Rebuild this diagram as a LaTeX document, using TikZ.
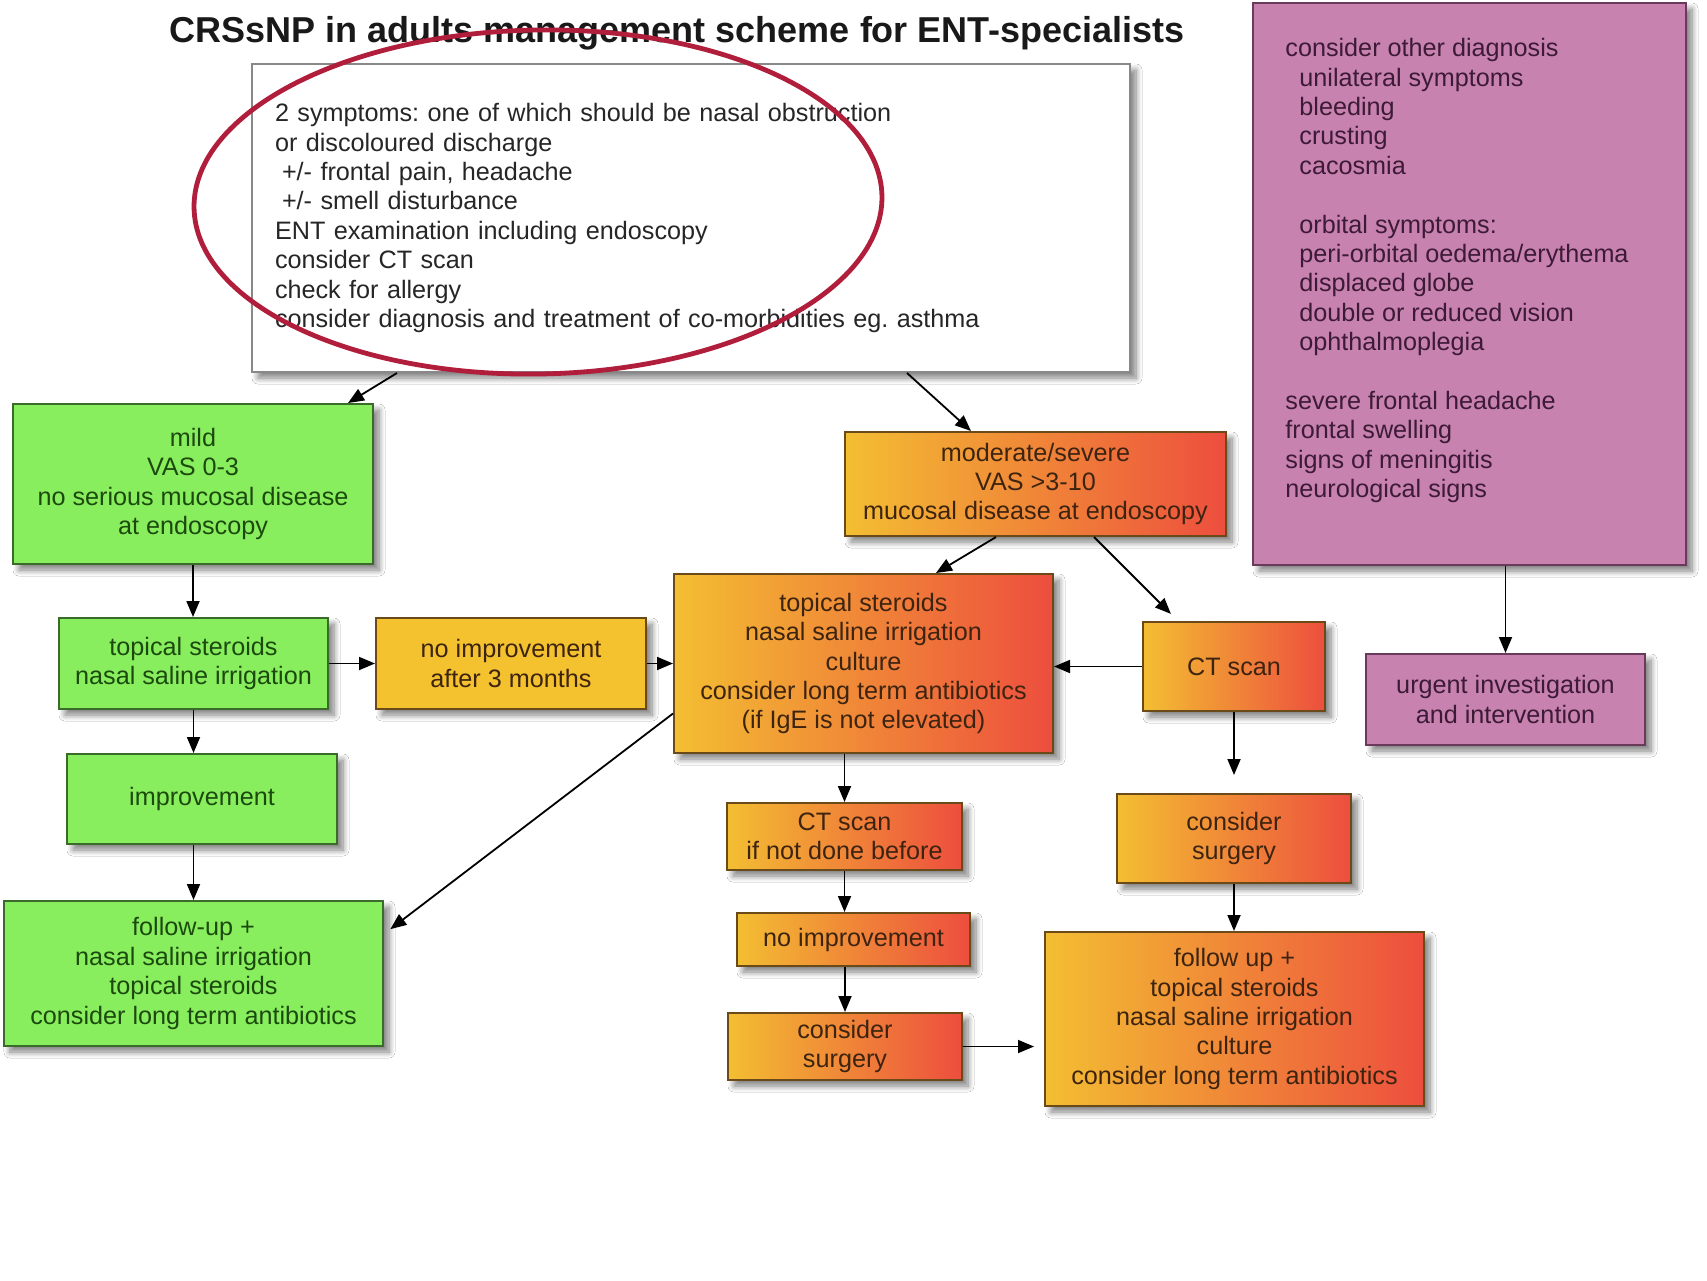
\documentclass[tikz,border=0pt]{standalone}
\usepackage{fontspec}
\setmainfont{Liberation Sans}
\usetikzlibrary{arrows.meta,shadows.blur,calc}
\definecolor{grn}{HTML}{88EE5E}
\definecolor{grnd}{HTML}{3A6B2A}
\definecolor{grnt}{HTML}{1C4A0E}
\definecolor{orL}{HTML}{F3BE32}
\definecolor{orR}{HTML}{ED4E3E}
\definecolor{ord}{HTML}{6B4A1A}
\definecolor{ort}{HTML}{3D2410}
\definecolor{yel}{HTML}{F4C12F}
\definecolor{pur}{HTML}{C882B0}
\definecolor{purd}{HTML}{6A3A5A}
\definecolor{purt}{HTML}{3D1A35}
\definecolor{topd}{HTML}{888888}
\definecolor{ellcol}{HTML}{B01E3C}
\frenchspacing
\begin{document}
\begin{tikzpicture}[x=0.5pt,y=-0.5pt,
  txt/.style={font=\fontsize{12.6}{14.7}\selectfont},
  base/.style={txt, draw, line width=1pt, inner sep=0pt, align=center, anchor=north west,
    blur shadow={shadow xshift=3pt, shadow yshift=-3pt, shadow blur radius=3pt, shadow blur steps=8, shadow opacity=50}},
  gbox/.style={base, fill=grn, draw=grnd, text=grnt},
  obox/.style={base, left color=orL, right color=orR, draw=ord, text=ort},
  ybox/.style={base, fill=yel, draw=ord, text=ort},
  pbox/.style={base, fill=pur, draw=purd, text=purt},
  arr/.style={-{Triangle[length=8pt,width=6.5pt]}, line width=0.9pt, black},
]
\fill[white] (0,0) rectangle (1707,1280);
\useasboundingbox (0,0) rectangle (1707,1280);

\node[font=\fontsize{18}{21}\selectfont\bfseries, text=black!90] (title) at (677,33)
  {CRSsNP in adults management scheme for ENT-specialists};

\node[base, draw=topd, fill=white, text=black!85, align=left, text width=416pt,
  inner xsep=11.5pt, minimum height=154pt] (top) at (251,63)
  {2 symptoms: one of which should be nasal obstruction\\
   or discoloured discharge\\
   \hspace*{3.5pt}+/- frontal pain, headache\\
   \hspace*{3.5pt}+/- smell disturbance\\
   ENT examination including endoscopy\\
   consider CT scan\\
   check for allergy\\
   consider diagnosis and treatment of co-morbidities eg. asthma};

\node[pbox, minimum width=216.5pt, minimum height=281pt] (purple) at (1252,2) {};
\node[txt, anchor=north west, inner sep=0pt, align=left, text=purt] (ptext) at (1285,38)
  {consider other diagnosis\\
   \hspace*{7pt}unilateral symptoms\\
   \hspace*{7pt}bleeding\\
   \hspace*{7pt}crusting\\
   \hspace*{7pt}cacosmia\\[14.7pt]
   \hspace*{7pt}orbital symptoms:\\
   \hspace*{7pt}peri-orbital oedema/erythema\\
   \hspace*{7pt}displaced globe\\
   \hspace*{7pt}double or reduced vision\\
   \hspace*{7pt}ophthalmoplegia\\[14.7pt]
   severe frontal headache\\
   frontal swelling\\
   signs of meningitis\\
   neurological signs};

\node[gbox, minimum width=180pt, minimum height=80pt] (mild) at (12,403)
  {mild\\VAS 0-3\\no serious mucosal disease\\at endoscopy};
\node[obox, minimum width=190.5pt, minimum height=52pt] (mod) at (844,431)
  {moderate/severe\\VAS >3-10\\mucosal disease at endoscopy};
\node[gbox, minimum width=134.5pt, minimum height=45.5pt] (topical) at (58,617)
  {topical steroids\\nasal saline irrigation};
\node[ybox, minimum width=135pt, minimum height=45.5pt] (noimp1) at (375,617)
  {no improvement\\after 3 months};
\node[obox, minimum width=189.5pt, minimum height=89.5pt] (central) at (673,573)
  {topical steroids\\nasal saline irrigation\\culture\\consider long term antibiotics\\(if IgE is not elevated)};
\node[obox, minimum width=91pt, minimum height=44.5pt] (ct) at (1142,621) {CT scan};
\node[pbox, minimum width=139.5pt, minimum height=45.5pt] (urgent) at (1365,653)
  {urgent investigation\\and intervention};
\node[gbox, minimum width=135pt, minimum height=45pt] (improve) at (66,753) {improvement};
\node[gbox, minimum width=189.5pt, minimum height=72.5pt] (follow) at (3,900)
  {follow-up +\\nasal saline irrigation\\topical steroids\\consider long term antibiotics};
\node[obox, minimum width=117.5pt, minimum height=33.5pt] (ctnot) at (726,802)
  {CT scan\\if not done before};
\node[obox, minimum width=116.5pt, minimum height=26.5pt] (noimp2) at (736,912)
  {no improvement};
\node[obox, minimum width=117pt, minimum height=33.5pt] (surgL) at (727,1012)
  {consider\\surgery};
\node[obox, minimum width=117pt, minimum height=44.5pt] (surgR) at (1116,793)
  {consider\\surgery};
\node[obox, minimum width=189.5pt, minimum height=87pt] (followR) at (1044,931)
  {follow up +\\topical steroids\\nasal saline irrigation\\culture\\consider long term antibiotics};

% connectors
\draw[arr] ([xshift=73pt]top.south west) -- ([xshift=-13pt]mild.north east);
\draw[arr] ([xshift=328pt]top.south west) -- ([xshift=63.5pt]mod.north west);
\draw[arr] (mild.south) -- (mild.south |- topical.north);
\draw[arr] (topical.east) -- (noimp1.west);
\draw[arr] (noimp1.east) -- (noimp1.east -| central.west);
\draw[arr] (topical.south) -- (topical.south |- improve.north);
\draw[arr] (improve.south -| follow.north) -- (follow.north);
\draw[arr, shorten >=4pt] ([yshift=-25pt]central.west) -- ([yshift=-17pt]follow.north east);
\draw[arr] ([xshift=76pt]mod.south west) -- ([xshift=131.5pt]central.north west);
\draw[arr, shorten >=5pt] ([xshift=125pt]mod.south west) -- ([xshift=18pt]ct.north west);
\draw[arr] (ct.west) -- (ct.west -| central.east);
\draw[arr, shorten >=9pt] (ct.south) -- (ct.south |- surgR.north);
\draw[arr] (surgR.south) -- (surgR.south |- followR.north);
\draw[arr] (central.south -| ctnot.north) -- (ctnot.north);
\draw[arr] (ctnot.south) -- (ctnot.south |- noimp2.north);
\draw[arr] (noimp2.south -| surgL.north) -- (surgL.north);
\draw[arr, shorten >=5pt] (surgL.east) -- (surgL.east -| followR.west);
\draw[arr] (purple.south -| urgent.north) -- (urgent.north);

% red ellipse
\draw[ellcol, line width=2.4pt, rotate around={1:(538,202)}] (538,202) ellipse [x radius=172pt, y radius=86pt];
\end{tikzpicture}
\end{document}
